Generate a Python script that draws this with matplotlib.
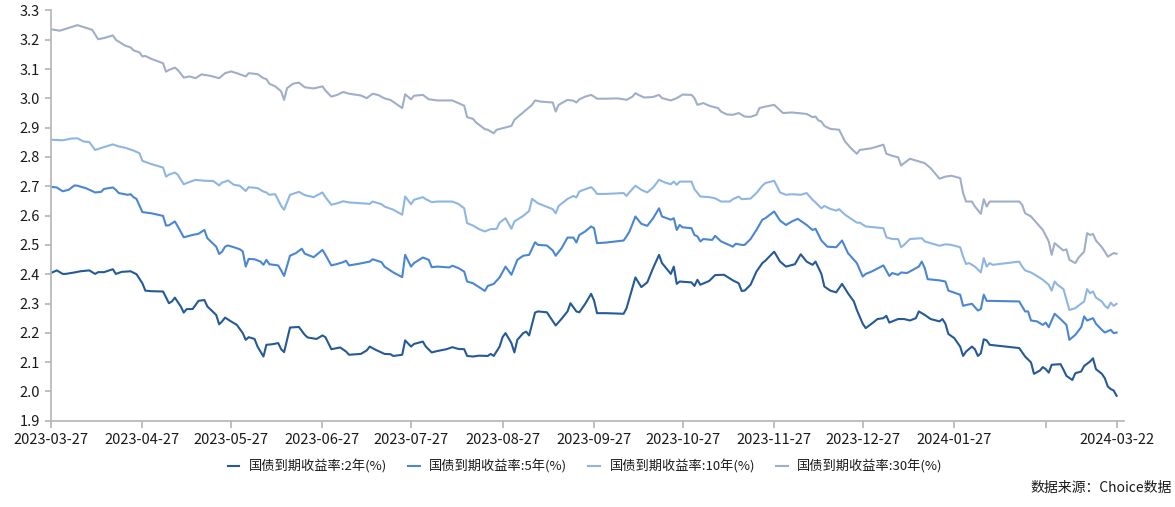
import matplotlib
matplotlib.use("Agg")
import matplotlib.pyplot as plt
import numpy as np
import pandas as pd

plt.rcParams["font.family"] = ["Noto Sans CJK SC", "DejaVu Sans"]

# --- Data (days since 2023-03-27, yield in %) ---
start = pd.Timestamp("2023-03-27")

days_30y = [0, 3, 9, 13, 14, 16, 18, 21, 22, 25, 27, 28, 30, 31, 32, 34, 38, 39, 40, 42, 43, 45, 47, 49, 51, 54, 57,
            59, 61, 63, 66, 67, 70, 72, 73, 74, 76, 78, 79, 80, 82, 84, 86, 89, 92, 93, 95, 97, 99, 101, 105, 107, 109,
            111, 113, 115, 117, 119,
            120, 122, 123, 126, 128, 131, 136, 138, 140, 141, 143, 144, 147, 148, 150, 151, 154, 156, 157, 161, 163,
            164, 166, 170, 171, 172, 175, 177, 178, 179,
            181, 183, 184, 185, 188, 192, 194, 195, 197, 198, 199, 201, 203, 204, 206, 207, 210, 212, 214, 217, 218,
            219, 221, 223, 224, 226, 227, 229, 231, 233, 235, 237, 239, 240,
            242, 245, 248, 251, 256, 258, 259, 260, 261, 262, 264, 267, 269, 271, 273, 274, 278, 282, 283, 285, 287,
            288, 289, 291, 293, 296, 298, 301,
            303, 305, 308, 309, 310, 312, 313, 315, 316, 317, 318, 328, 329, 330, 332, 334, 336, 338, 339, 340, 342,
            343, 344, 345, 347, 348, 350, 351, 352, 353, 354, 356, 357, 358, 360, 361]
y_30y = [3.236, 3.231, 3.250, 3.237, 3.234, 3.202, 3.206, 3.215, 3.200, 3.181, 3.174, 3.164, 3.157, 3.143, 3.145,
         3.135, 3.120, 3.091, 3.097, 3.105, 3.097, 3.071, 3.075, 3.069, 3.082, 3.077, 3.069,
         3.086, 3.092, 3.086, 3.075, 3.086, 3.083, 3.069, 3.066, 3.050, 3.041, 3.024, 2.995, 3.035, 3.050, 3.054,
         3.038, 3.034, 3.041, 3.027, 3.006, 3.012, 3.022, 3.016, 3.010, 3.001, 3.016, 3.011, 3.000, 2.995, 2.981, 2.967,
         3.014, 2.997, 3.009, 3.012, 2.997, 2.993, 2.993, 2.984, 2.975, 2.936, 2.930, 2.918, 2.895, 2.893, 2.881,
         2.893, 2.901, 2.906, 2.927, 2.961, 2.978, 2.993, 2.989, 2.986, 2.955, 2.978, 2.995, 2.992, 2.986, 2.997,
         3.006, 3.012, 3.006, 2.999, 2.999, 3.000, 2.997, 2.995, 3.006, 3.018, 3.012, 3.003, 3.004, 3.005, 3.012,
         3.001, 2.993, 3.001, 3.013, 3.012, 3.001, 2.978, 2.984, 2.975, 2.972, 2.967, 2.955, 2.945, 2.944, 2.950,
         2.938, 2.937, 2.944, 2.967,
         2.972, 2.978, 2.950, 2.952, 2.947, 2.936, 2.938, 2.925, 2.921, 2.906, 2.896, 2.893, 2.853, 2.830, 2.811,
         2.824, 2.830, 2.842, 2.811, 2.804, 2.799, 2.771, 2.779, 2.794, 2.788, 2.779, 2.762, 2.726,
         2.733, 2.736, 2.728, 2.677, 2.648, 2.648, 2.631, 2.606, 2.656, 2.631, 2.648, 2.648, 2.637, 2.608, 2.597,
         2.574, 2.551, 2.512, 2.466, 2.506, 2.489, 2.481, 2.485, 2.449, 2.438, 2.455, 2.477, 2.540, 2.534, 2.537,
         2.515, 2.492, 2.477, 2.460, 2.472, 2.470]

days_10y = [0, 4, 7, 9, 11, 13, 15, 18, 21, 23, 25, 28, 30, 31, 34, 38, 39, 40, 42, 43, 45, 47, 49, 52, 55, 57, 58,
            59, 60, 62, 64, 66, 67, 70, 72, 73, 74, 76, 78, 79, 81, 84, 86, 89, 92, 93, 95, 97, 99, 101, 105, 108, 109,
            112, 113, 116, 119,
            120, 122, 123, 126, 127, 129, 131, 136, 138, 140, 141, 143, 145, 147, 149, 151, 152, 154, 156, 157, 160,
            162, 163, 165, 167, 170, 171, 172, 175, 177, 178, 179,
            181, 183, 184, 185, 188, 194, 195, 196, 198, 200, 202, 204, 206, 208, 210, 211, 212, 213, 217, 218, 220,
            223, 225, 227, 230, 231, 233, 234, 237, 239, 241,
            242, 245, 247, 249, 251, 254, 256, 258, 259, 261, 262, 264, 266, 267, 269, 273, 274, 276, 280, 282, 283,
            285, 287, 288, 289, 291, 295, 296, 298, 301,
            303, 305, 308, 309, 310, 311, 313, 315, 316, 317, 318, 319, 328, 329, 330, 332, 334, 336, 338, 339, 340,
            341, 343, 345, 347, 348, 350, 351, 352, 353, 354, 356, 357, 358, 359, 360, 361]
y_10y = [2.859, 2.857, 2.863, 2.864, 2.853, 2.851, 2.824, 2.834, 2.843, 2.836, 2.832, 2.822, 2.813, 2.787, 2.776,
         2.764, 2.733, 2.740, 2.747, 2.739, 2.707, 2.715, 2.722, 2.719, 2.718, 2.703, 2.713,
         2.716, 2.720, 2.705, 2.702, 2.684, 2.697, 2.694, 2.682, 2.679, 2.671, 2.673, 2.633, 2.620, 2.671, 2.681,
         2.670, 2.663, 2.679, 2.663, 2.637, 2.642, 2.649, 2.645, 2.642, 2.640, 2.648, 2.639, 2.631, 2.620, 2.603,
         2.665, 2.639, 2.654, 2.663, 2.656, 2.646, 2.648, 2.648, 2.640, 2.625, 2.574, 2.566, 2.554, 2.546, 2.554,
         2.555, 2.576, 2.591, 2.555, 2.580, 2.599, 2.616, 2.657, 2.642, 2.634, 2.622, 2.608, 2.633, 2.657, 2.667,
         2.662, 2.682,
         2.690, 2.697, 2.688, 2.674, 2.674, 2.677, 2.667, 2.680, 2.702, 2.688, 2.679, 2.696, 2.722, 2.713, 2.707,
         2.716, 2.705, 2.716, 2.716, 2.690, 2.665, 2.663, 2.659, 2.648, 2.648, 2.656, 2.665, 2.656, 2.658, 2.677, 2.702,
         2.711, 2.719, 2.679, 2.671, 2.673, 2.671, 2.677, 2.654, 2.645, 2.625, 2.633, 2.623, 2.617, 2.622, 2.603,
         2.576, 2.576, 2.563, 2.559, 2.557, 2.526, 2.520, 2.520, 2.492, 2.500, 2.520, 2.523, 2.512, 2.506, 2.497,
         2.502, 2.500, 2.492, 2.460, 2.435, 2.438, 2.426, 2.406, 2.455, 2.426, 2.438, 2.432, 2.443, 2.426, 2.413,
         2.406, 2.394, 2.381, 2.364, 2.344, 2.375, 2.364, 2.349, 2.278, 2.284, 2.292, 2.307, 2.349, 2.335, 2.341,
         2.320, 2.307, 2.292, 2.284, 2.303, 2.292, 2.299]

days_5y = [0, 2, 4, 6, 8, 9, 12, 15, 17, 18, 21, 22, 23, 26, 27, 28, 29, 31, 34, 38, 39, 40, 42, 43, 45, 48, 50, 52,
           53, 56, 57, 58,
           59, 60, 62, 64, 65, 66, 67, 69, 71, 72, 73, 74, 77, 78, 79, 81, 83, 85, 86, 89, 92, 93, 95, 97, 99, 100,
           101, 104, 108, 109, 112, 113, 116, 119,
           120, 122, 123, 126, 128, 129, 131, 135, 136, 138, 140, 141, 143, 145, 147, 148, 150, 152, 154, 156, 158,
           160, 162, 164, 165, 168, 170, 171, 173, 175, 177, 178, 179,
           181, 183, 184, 185, 188, 194, 195, 196, 198, 200, 202, 204, 206, 207, 210, 211, 212, 213, 214, 217, 218,
           219, 220, 221, 224, 225, 227, 231, 232, 234, 235, 237, 239, 241,
           242, 245, 247, 249, 251, 253, 256, 258, 259, 261, 263, 266, 268, 270, 273, 275, 276, 278, 282, 284, 285,
           287, 288, 290, 292, 294, 295, 296, 297, 301,
           303, 304, 308, 309, 310, 312, 314, 315, 316, 317, 318, 328, 330, 331, 332, 334, 336, 337, 338, 340, 342,
           344, 345, 347, 349, 350, 351, 353, 354, 356, 357, 359, 360, 361]
y_5y = [2.698, 2.696, 2.683, 2.688, 2.703, 2.702, 2.693, 2.679, 2.681, 2.691, 2.696, 2.688, 2.677, 2.671, 2.673,
        2.663, 2.657, 2.612, 2.608, 2.599, 2.566, 2.567, 2.580, 2.563, 2.526, 2.534, 2.538, 2.551, 2.523, 2.494,
        2.469, 2.477,
        2.494, 2.498, 2.492, 2.485, 2.478, 2.426, 2.452, 2.451, 2.443, 2.432, 2.449, 2.434, 2.430, 2.413, 2.394,
        2.463, 2.472, 2.487, 2.470, 2.458, 2.483, 2.466, 2.430, 2.435, 2.441, 2.446, 2.430, 2.435, 2.443, 2.451,
        2.441, 2.426, 2.406, 2.390,
        2.466, 2.426, 2.438, 2.457, 2.449, 2.424, 2.426, 2.423, 2.429, 2.421, 2.409, 2.375, 2.369, 2.356, 2.343,
        2.360, 2.367, 2.389, 2.426, 2.398, 2.449, 2.463, 2.466, 2.509, 2.500, 2.498, 2.481, 2.463, 2.489, 2.525,
        2.525, 2.508, 2.534,
        2.546, 2.563, 2.557, 2.506, 2.508, 2.515, 2.529, 2.546, 2.597, 2.572, 2.565, 2.591, 2.625, 2.597, 2.586,
        2.591, 2.551, 2.568, 2.560, 2.557, 2.534, 2.529, 2.512, 2.520, 2.517, 2.531, 2.512, 2.494, 2.504, 2.500,
        2.500, 2.520, 2.551, 2.586,
        2.591, 2.614, 2.583, 2.568, 2.580, 2.589, 2.568, 2.551, 2.555, 2.515, 2.494, 2.492, 2.515, 2.472, 2.438,
        2.392, 2.401, 2.409, 2.430, 2.394, 2.404, 2.398, 2.406, 2.404, 2.415, 2.426, 2.443, 2.421, 2.383, 2.379,
        2.375, 2.344, 2.330, 2.292, 2.295, 2.299, 2.276, 2.281, 2.330, 2.309, 2.309, 2.307, 2.273, 2.273, 2.242,
        2.239, 2.227, 2.235, 2.219, 2.265, 2.247, 2.227, 2.176, 2.193, 2.219, 2.256, 2.242, 2.250, 2.231, 2.210,
        2.201, 2.210, 2.199, 2.201]

days_2y = [0, 2, 4, 5, 8, 10, 13, 15, 16, 18, 21, 22, 24, 27, 29, 31, 32, 34, 38, 40, 41, 42, 44, 45, 46, 48, 50, 52,
           53, 56, 57, 58,
           59, 61, 63, 65, 66, 67, 69, 70, 72, 73, 75, 77, 78, 79, 81, 84, 86, 87, 90, 92, 93, 95, 98, 100, 101, 105,
           107, 108, 110, 113, 115, 116, 119,
           120, 122, 123, 126, 127, 129, 131, 134, 136, 138, 140, 141, 143, 145, 148, 149, 150, 152, 153, 154, 156,
           157, 158, 160, 161, 162, 164, 165, 168, 171, 173, 175, 176, 178, 179,
           181, 183, 184, 185, 188, 194, 195, 198, 200, 202, 204, 206, 207, 210, 211, 212, 213, 217, 218, 219, 220,
           223, 225, 228, 231, 233, 234, 235, 237, 239, 241,
           242, 245, 247, 249, 252, 254, 256, 258, 259, 261, 262, 264, 266, 268, 270, 272, 273, 275, 276, 278, 280,
           282, 283, 284, 287, 289, 291, 293, 294, 296, 298, 301, 302,
           303, 304, 306, 308, 309, 310, 312, 313, 314, 315, 316, 317, 318, 328, 330, 332, 333, 335, 336, 337, 338,
           339, 342, 343, 344, 346, 347, 349, 350, 352, 353, 354, 356, 357, 358, 359, 360, 361]
y_2y = [2.404, 2.413, 2.401, 2.401, 2.406, 2.410, 2.413, 2.401, 2.407, 2.407, 2.417, 2.401, 2.408, 2.410, 2.400,
        2.369, 2.344, 2.342, 2.341, 2.301, 2.307, 2.320, 2.290, 2.269, 2.281, 2.281, 2.309, 2.312, 2.290, 2.261,
        2.229, 2.239,
        2.252, 2.239, 2.227, 2.199, 2.176, 2.185, 2.179, 2.153, 2.119, 2.159, 2.161, 2.165, 2.144, 2.134, 2.218,
        2.220, 2.193, 2.184, 2.179, 2.191, 2.185, 2.144, 2.150, 2.136, 2.125, 2.128, 2.140, 2.153, 2.142, 2.128,
        2.127, 2.121, 2.125,
        2.174, 2.153, 2.162, 2.170, 2.153, 2.133, 2.138, 2.144, 2.151, 2.145, 2.144, 2.121, 2.119, 2.122, 2.121,
        2.128, 2.121, 2.153, 2.185, 2.199, 2.165, 2.133, 2.176, 2.199, 2.204, 2.191, 2.269, 2.273, 2.270, 2.225,
        2.248, 2.273, 2.301, 2.273, 2.270,
        2.299, 2.333, 2.310, 2.267, 2.267, 2.265, 2.284, 2.389, 2.356, 2.372, 2.421, 2.466, 2.438, 2.401, 2.426,
        2.367, 2.375, 2.372, 2.360, 2.381, 2.364, 2.377, 2.397, 2.398, 2.379, 2.369, 2.343, 2.344, 2.364, 2.409, 2.438,
        2.446, 2.477, 2.443, 2.426, 2.434, 2.468, 2.443, 2.432, 2.443, 2.401, 2.358, 2.344, 2.338, 2.367, 2.335,
        2.307, 2.278, 2.231, 2.216, 2.231, 2.247, 2.250, 2.258, 2.235, 2.247, 2.247, 2.242, 2.250, 2.273, 2.261,
        2.247, 2.239, 2.247,
        2.231, 2.196, 2.182, 2.153, 2.121, 2.136, 2.153, 2.144, 2.121, 2.130, 2.178, 2.174, 2.159, 2.148, 2.119,
        2.099, 2.060, 2.071, 2.083, 2.076, 2.064, 2.091, 2.093, 2.074, 2.053, 2.039, 2.062, 2.068, 2.087, 2.102,
        2.113, 2.076, 2.060, 2.045, 2.017, 2.008, 2.003, 1.985]

labels = ["国债到期收益率:2年(%)", "国债到期收益率:5年(%)", "国债到期收益率:10年(%)", "国债到期收益率:30年(%)"]
colors = ["#255a96", "#4a86d2", "#8fb6e1", "#a0aec8"]

tick_dates = ["2023-03-27", "2023-04-27", "2023-05-27", "2023-06-27", "2023-07-27", "2023-08-27",
              "2023-09-27", "2023-10-27", "2023-11-27", "2023-12-27", "2024-01-27", "2024-02-27", "2024-03-22"]
tick_labels = [d if d != "2024-02-27" else "" for d in tick_dates]
y_ticks = np.round(np.arange(1.9, 3.31, 0.1), 1)

# --- Plot ---
fig = plt.figure(figsize=(11.75, 5.07), dpi=100)
ax = fig.add_axes([0.0433, 0.1702, 0.9133, 0.8091])

all_series = [(days_2y, y_2y), (days_5y, y_5y), (days_10y, y_10y), (days_30y, y_30y)]
for (days, vals), color, label in zip(all_series, colors, labels):
    assert len(days) == len(vals), label
    x = start + pd.to_timedelta(days, unit="D")
    ax.plot(x, vals, color=color, lw=1.5, label=label, solid_joinstyle="round")

ax.set_ylim(1.9, 3.3)
ax.set_yticks(y_ticks)
ax.set_yticklabels([f"{v:.1f}" for v in y_ticks])
ax.set_xlim(start, start + pd.Timedelta(days=363.5))
ax.set_xticks(pd.to_datetime(tick_dates))
ax.set_xticklabels(tick_labels)

for side in ["top", "right"]:
    ax.spines[side].set_visible(False)
for side in ["left", "bottom"]:
    ax.spines[side].set_color("#b4b4b4")
    ax.spines[side].set_linewidth(1.2)
ax.tick_params(axis="both", colors="#b4b4b4", labelcolor="#1a1a1a", labelsize=10.5, width=1.2)
ax.tick_params(axis="x", length=5, pad=4)
ax.tick_params(axis="y", length=4, pad=4)

fig.legend(loc="center", bbox_to_anchor=(0.498, 0.079), ncol=4, frameon=False, fontsize=9.5,
           handlelength=0.9, handletextpad=0.7, columnspacing=1.6, labelcolor="#1a1a1a")
fig.text(0.9974, 0.0375, "数据来源：Choice数据", ha="right", va="center", fontsize=10, color="#1a1a1a")

fig.savefig("out.png", dpi=100)
